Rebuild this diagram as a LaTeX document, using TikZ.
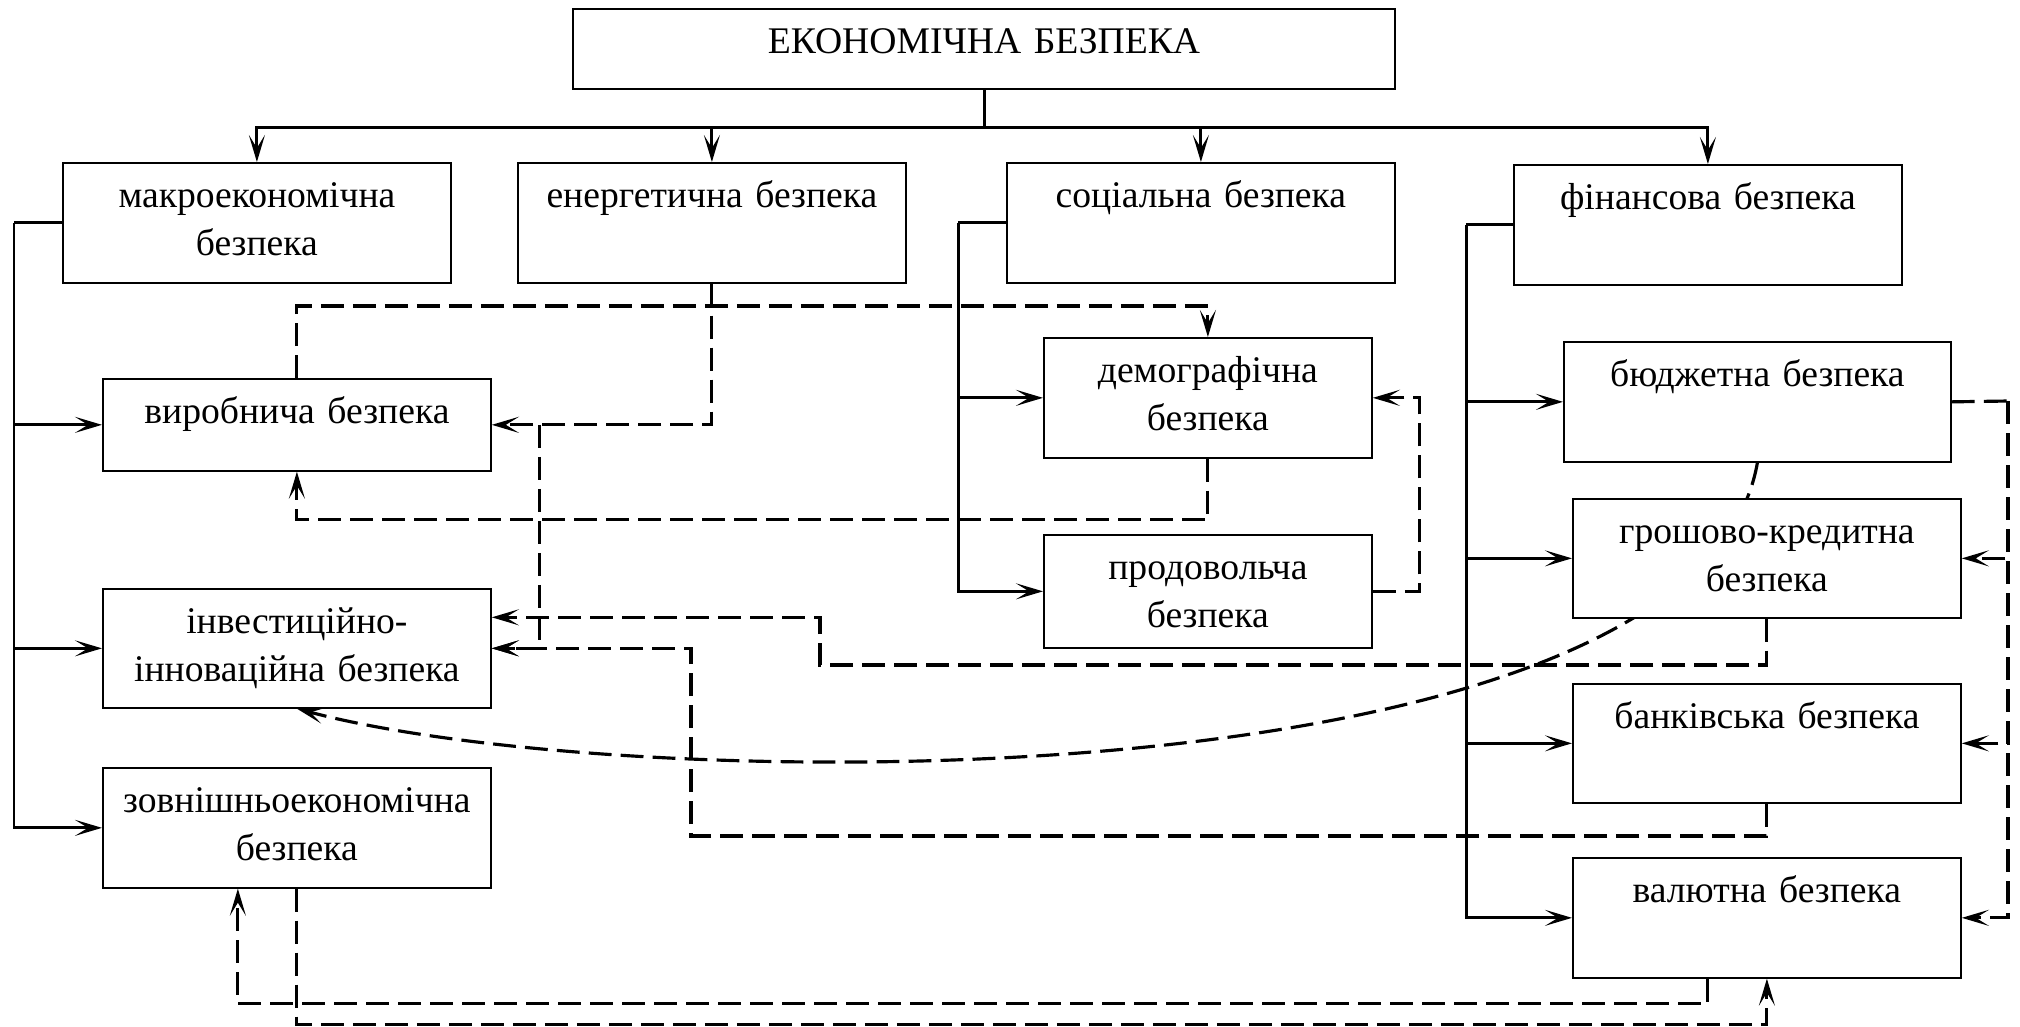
\documentclass[tikz,border=0pt]{standalone}
\usepackage{fontspec}
\setmainfont{Liberation Serif}
\usetikzlibrary{arrows.meta}
\pgfdeclarelayer{bg}
\pgfsetlayers{bg,main}
\tikzset{
  box/.style 2 args={draw, line width=0.45pt, fill=white, inner sep=0pt, anchor=north west,
    align=center, text width=#1, text height=4.5mm, text depth=#2,
    font=\fontsize{10.7}{13.5}\selectfont},
  bus/.style={line width=0.85pt},
  dline/.style={line width=0.9pt, dash pattern=on 6.5pt off 2.6pt},
  >={Stealth[length=2.7mm,width=1.6mm,inset=1.3mm]}
}
\begin{document}
\begin{tikzpicture}[x=0.01cm,y=-0.01cm]
\useasboundingbox (0,0) rectangle (2020,1026);
% boxes
\node[box={8.22cm}{3.5mm}] (top) at (572,8) {ЕКОНОМІЧНА БЕЗПЕКА};
\node[box={3.88cm}{7.5mm}] (makro) at (62,162) {макроекономічна\\безпека};
\node[box={3.88cm}{7.5mm}] (energ) at (517,162) {енергетична безпека};
\node[box={3.88cm}{7.5mm}] (soc) at (1006,162) {соціальна безпека};
\node[box={3.88cm}{7.5mm}] (fin) at (1513,164) {фінансова безпека};
\node[box={3.88cm}{4.7mm}] (virob) at (102,378) {виробнича безпека};
\node[box={3.88cm}{7.4mm}] (inv) at (102,588) {інвестиційно-\\інноваційна безпека};
\node[box={3.88cm}{7.5mm}] (zovn) at (102,767) {зовнішньоекономічна\\безпека};
\node[box={3.28cm}{7.5mm}] (demog) at (1043,337) {демографічна\\безпека};
\node[box={3.28cm}{6.8mm}] (prod) at (1043,534) {продовольча\\безпека};
\node[box={3.87cm}{7.5mm}] (budzh) at (1563,341) {бюджетна безпека};
\node[box={3.88cm}{7.4mm}] (grosh) at (1572,498) {грошово-кредитна\\безпека};
\node[box={3.88cm}{7.4mm}] (bank) at (1572,683) {банківська безпека};
\node[box={3.88cm}{7.5mm}] (val) at (1572,857) {валютна безпека};

% structure
\draw[bus] (top.south) -- ++(0,38) coordinate (tb);
\draw[bus,->] (tb) -| (makro.north);
\draw[bus,->] (tb) -| (energ.north);
\draw[bus,->] (tb) -| (soc.north);
\draw[bus,->] (tb) -| (fin.north);
\draw[bus] (makro.west) -- ++(-48,0) coordinate (lb);
\draw[bus,->] (lb) |- (virob.west);
\draw[bus,->] (lb) |- (inv.west);
\draw[bus,->] (lb) |- (zovn.west);
\draw[bus] (soc.west) -- ++(-48,0) coordinate (mb);
\draw[bus,->] (mb) |- (demog.west);
\draw[bus,->] (mb) |- (prod.west);
\draw[bus] (fin.west) -- ++(-47,0) coordinate (rb);
\draw[bus,->] (rb) |- (budzh.west);
\draw[bus,->] (rb) |- (grosh.west);
\draw[bus,->] (rb) |- (bank.west);
\draw[bus,->] (rb) |- (val.west);

% links
\draw[dline,->] (virob.north) -- ++(0,-72) -| (demog.north);
\draw[dline,->] (energ.south) |- (virob.east);
\draw[dline,->] ([xshift=4.8mm]virob.east) |- (inv.east);
\draw[dline,->] (demog.south) -- ++(0,61) -| (virob.south);
\draw[dline,->] (prod.east) -- ++(47,0) |- (demog.east);
\draw[dline,->] (grosh.south) |- (820,665) |- ([yshift=3.1mm]inv.east);
\draw[dline,->] (bank.south) |- (691,836) |- (inv.east);
\draw[dline] (budzh.east) -- (2008,401) coordinate (rt);
\draw[dline,->] (rt) |- (grosh.east);
\draw[dline,->] (rt) |- (bank.east);
\draw[dline,->] (rt) |- (val.east);
\draw[dline,->] ([xshift=-5.9mm]val.south) -- ++(0,25) -| ([xshift=-5.9mm]zovn.south);
\draw[dline,->] (zovn.south) -- ++(0,136) -| (val.south);
\begin{pgfonlayer}{bg}
\draw[dline,->] (budzh.south) .. controls +(-60,343) and +(336,90) .. (inv.south);
\end{pgfonlayer}
\end{tikzpicture}
\end{document}
